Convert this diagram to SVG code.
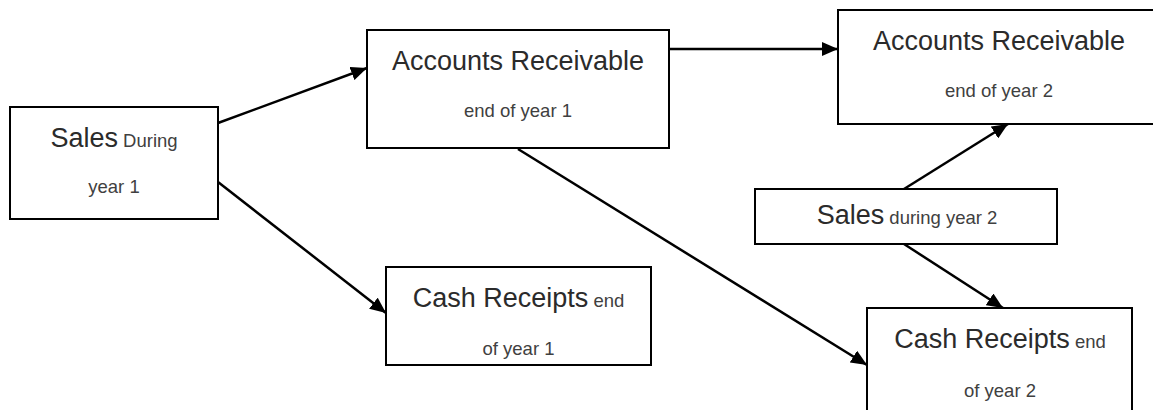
<svg xmlns="http://www.w3.org/2000/svg" width="1153" height="410" viewBox="0 0 1153 410">
<style>
.box{fill:#fff;stroke:#000;stroke-width:2}
.big{font-family:"Liberation Sans",Arial,sans-serif;font-size:27px;fill:#2b2b2b}
.small{font-family:"Liberation Sans",Arial,sans-serif;font-size:18.5px;fill:#404040}
.conn{stroke:#000;stroke-width:2.5;fill:none;marker-end:url(#arr)}
</style>
<defs>
<marker id="arr" markerUnits="userSpaceOnUse" markerWidth="17" markerHeight="14" refX="16" refY="7" orient="auto">
<path d="M0,0 L16,7 L0,14 z" fill="#000"/>
</marker>
</defs>
<rect width="1153" height="410" fill="#fff"/>
<g id="connectors">
<line class="conn" x1="218" y1="123" x2="367" y2="68"/>
<line class="conn" x1="218" y1="182" x2="386" y2="313"/>
<line class="conn" x1="669" y1="49" x2="838" y2="49"/>
<line class="conn" x1="518" y1="149" x2="867" y2="365"/>
<line class="conn" x1="904" y1="189" x2="1008" y2="124"/>
<line class="conn" x1="904" y1="244" x2="1003" y2="308"/>
</g>
<g id="sales1">
<rect class="box" x="10" y="107" width="208" height="112"/>
<text x="114" y="147" text-anchor="middle"><tspan class="big">Sales</tspan><tspan class="small"> During</tspan></text>
<text class="small" x="114" y="193" text-anchor="middle">year 1</text>
</g>
<g id="ar1">
<rect class="box" x="367" y="30" width="302" height="118"/>
<text class="big" x="518" y="70" text-anchor="middle">Accounts Receivable</text>
<text class="small" x="518" y="117" text-anchor="middle">end of year 1</text>
</g>
<g id="ar2">
<rect class="box" x="838" y="10" width="324" height="114"/>
<text class="big" x="999" y="50" text-anchor="middle">Accounts Receivable</text>
<text class="small" x="999" y="97" text-anchor="middle">end of year 2</text>
</g>
<g id="sales2">
<rect class="box" x="755" y="189" width="302" height="55"/>
<text x="907" y="224" text-anchor="middle"><tspan class="big">Sales</tspan><tspan class="small"> during year 2</tspan></text>
</g>
<g id="cr1">
<rect class="box" x="386" y="267" width="265" height="98"/>
<text x="518.5" y="307" text-anchor="middle"><tspan class="big">Cash Receipts</tspan><tspan class="small"> end</tspan></text>
<text class="small" x="518.5" y="355" text-anchor="middle">of year 1</text>
</g>
<g id="cr2">
<rect class="box" x="867" y="308" width="265" height="110"/>
<text x="1000" y="348" text-anchor="middle"><tspan class="big">Cash Receipts</tspan><tspan class="small"> end</tspan></text>
<text class="small" x="1000" y="397" text-anchor="middle">of year 2</text>
</g>
</svg>
